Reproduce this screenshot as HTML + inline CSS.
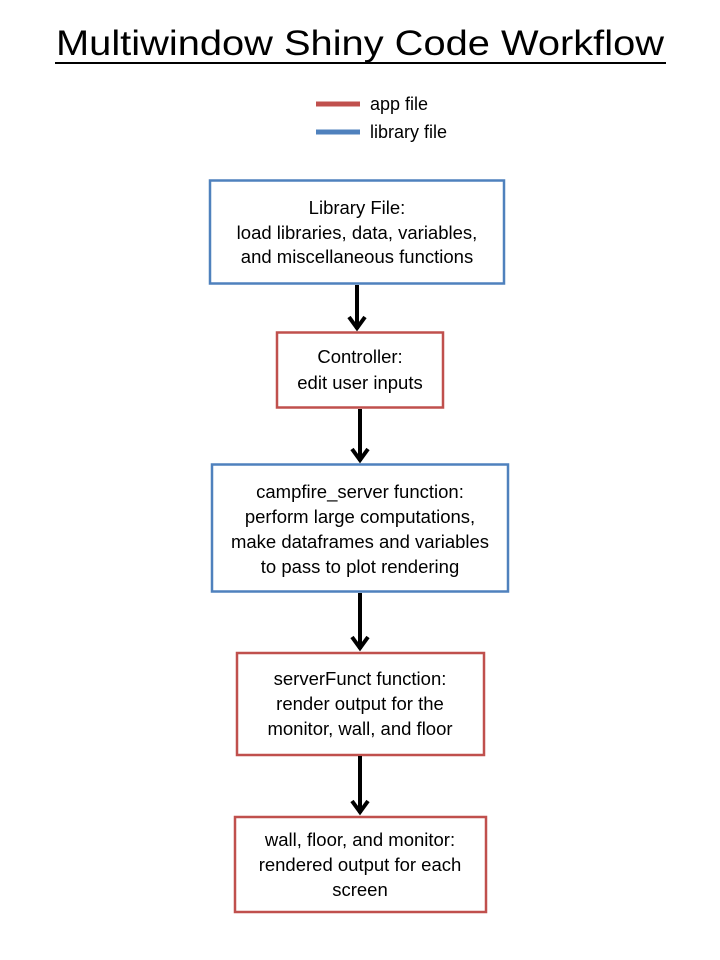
<!DOCTYPE html>
<html><head><meta charset="utf-8"><style>
html,body{margin:0;padding:0;background:#fff;}
svg{display:block;}
text{font-family:"Liberation Sans",sans-serif;fill:#000;}
</style></head><body>
<svg width="720" height="960" viewBox="0 0 720 960" xmlns="http://www.w3.org/2000/svg">
<text x="360" y="55" font-size="35" text-anchor="middle" textLength="608" lengthAdjust="spacingAndGlyphs">Multiwindow Shiny Code Workflow</text>
<line x1="55" y1="63" x2="666" y2="63" stroke="#000" stroke-width="2"/>
<line x1="316" y1="104" x2="360" y2="104" stroke="#C0504D" stroke-width="5"/>
<text x="370" y="110" font-size="18">app file</text>
<line x1="316" y1="132" x2="360" y2="132" stroke="#4F81BD" stroke-width="5"/>
<text x="370" y="138" font-size="18">library file</text>

<g fill="none" stroke-width="2.5">
<rect x="210" y="180.5" width="294" height="103" stroke="#4F81BD"/>
<rect x="277" y="332.5" width="166" height="75" stroke="#C0504D"/>
<rect x="212" y="464.5" width="296" height="127" stroke="#4F81BD"/>
<rect x="237" y="653" width="247" height="102" stroke="#C0504D"/>
<rect x="235" y="817" width="251" height="95" stroke="#C0504D"/>
</g>

<g stroke="#000" stroke-width="4" fill="none">
<line x1="357" y1="285" x2="357" y2="329"/><polyline points="349,317 357,328 365,317"/>
<line x1="360" y1="409" x2="360" y2="461"/><polyline points="352,449 360,460 368,449"/>
<line x1="360" y1="593" x2="360" y2="649"/><polyline points="352,637 360,648 368,637"/>
<line x1="360" y1="756" x2="360" y2="813"/><polyline points="352,801 360,812 368,801"/>
</g>

<g font-size="18.5" text-anchor="middle">
<text x="357" y="214">Library File:</text>
<text x="357" y="239">load libraries, data, variables,</text>
<text x="357" y="263">and miscellaneous functions</text>

<text x="360" y="363">Controller:</text>
<text x="360" y="389">edit user inputs</text>

<text x="360" y="498">campfire_server  function:</text>
<text x="360" y="523">perform large computations,</text>
<text x="360" y="548">make dataframes and variables</text>
<text x="360" y="573">to pass to plot rendering</text>

<text x="360" y="685">serverFunct function:</text>
<text x="360" y="710">render output for the</text>
<text x="360" y="735">monitor, wall, and floor</text>

<text x="360" y="846">wall, floor, and monitor:</text>
<text x="360" y="871">rendered output for each</text>
<text x="360" y="896">screen</text>
</g>
</svg>
</body></html>
